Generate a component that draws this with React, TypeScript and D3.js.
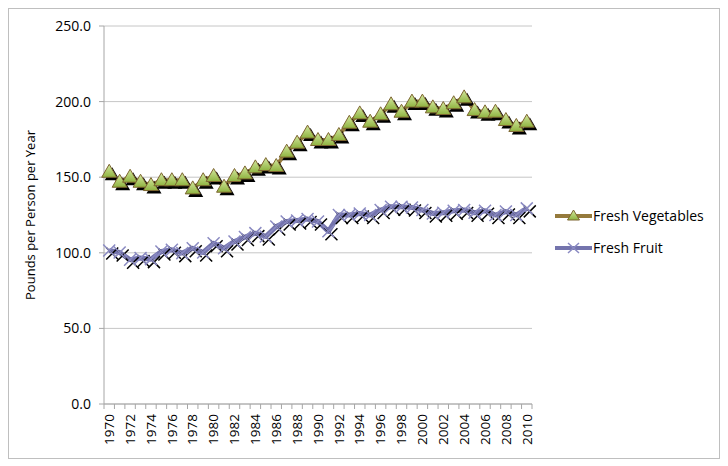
import React from "react";
import * as d3 from "d3";

const years = d3.range(1970, 2011).map(String);

const vegetables = [
  153.6, 147.0, 150.3, 147.0, 144.8, 148.0, 148.0, 148.0, 142.6, 148.0,
  150.8, 143.7, 150.8, 152.5, 156.5, 158.0, 157.4, 166.9, 172.8, 179.5,
  174.6, 174.6, 177.9, 186.0, 192.2, 186.7, 191.6, 198.2, 193.3, 200.0,
  200.0, 196.2, 195.1, 198.9, 202.8, 194.4, 192.9, 193.3, 187.8, 183.9, 186.7,
];

const fruit = [
  101.5, 100.2, 95.4, 96.5, 95.8, 100.9, 102.0, 99.8, 103.0, 100.2,
  106.3, 103.0, 107.5, 110.4, 113.0, 110.8, 117.4, 120.7, 121.4, 122.3,
  120.7, 114.2, 125.0, 125.0, 126.0, 125.0, 128.3, 130.5, 130.5, 130.0,
  128.3, 126.0, 126.5, 127.8, 128.3, 126.5, 127.8, 125.0, 127.3, 125.0, 129.4,
];

const yTicks = [0, 50, 100, 150, 200, 250];
const seriesNames = ["Fresh Vegetables", "Fresh Fruit"];

const VEG_LINE = "#957a3c";
const FRUIT_LINE = "#7474ad";
const FONT = "'Open Sans', 'Noto Sans', sans-serif";

const Triangle: React.FC<{ x: number; y: number }> = ({ x, y }) => {
  const tri = (cx: number, cy: number) =>
    `M${cx},${cy - 7.5} L${cx + 7.5},${cy + 5.5} L${cx - 7.5},${cy + 5.5} Z`;
  return (
    <g>
      <path d={tri(x + 3, y + 3)} fill="#000" />
      <path d={tri(x, y)} fill="url(#triGrad)" stroke="#7d6530" strokeWidth={1} />
    </g>
  );
};

const Cross: React.FC<{ x: number; y: number }> = ({ x, y }) => {
  const s = 6;
  const cross = (cx: number, cy: number) =>
    `M${cx - s},${cy - s} L${cx + s},${cy + s} M${cx + s},${cy - s} L${cx - s},${cy + s}`;
  return (
    <g>
      <path d={cross(x + 3, y + 3)} stroke="#000" strokeWidth={1.5} />
      <path d={cross(x, y)} stroke="#8a8ac2" strokeWidth={1.5} />
    </g>
  );
};

const App: React.FC = () => {
  const width = 728;
  const height = 466;
  const left = 104;
  const right = 532;
  const top = 26;
  const bottom = 404;

  const x = d3.scaleBand<string>().domain(years).range([left, right]).padding(0);
  const y = d3.scaleLinear().domain([0, 250]).range([bottom, top]);
  const cx = (d: string) => x(d)! + x.bandwidth() / 2;

  const line = d3
    .line<number>()
    .x((_, i) => cx(years[i]))
    .y((d) => y(d));

  return (
    <svg
      width={width}
      height={height}
      style={{ position: "absolute", left: 0, top: 0, background: "#fff" }}
    >
      <defs>
        <linearGradient id="triGrad" x1="0" y1="0" x2="0" y2="1">
          <stop offset="0%" stopColor="#d4e8a0" />
          <stop offset="100%" stopColor="#8fb340" />
        </linearGradient>
      </defs>

      <rect x={8.5} y={8.5} width={711} height={450} fill="#fff" stroke="#bfbfbf" />

      {/* gridlines */}
      {yTicks.map((t) => (
        <g key={t}>
          <line x1={left} x2={right} y1={y(t)} y2={y(t)} stroke="#c6c6c6" />
          <line x1={left - 5} x2={left} y1={y(t)} y2={y(t)} stroke="#a6a6a6" />
          <text
            x={91}
            y={y(t)}
            dy="0.35em"
            textAnchor="end"
            fontFamily={FONT}
            fontSize={14}
            fill="#000"
          >
            {t.toFixed(1)}
          </text>
        </g>
      ))}

      <line x1={left} x2={left} y1={top} y2={bottom} stroke="#a6a6a6" />
      <line x1={left} x2={right} y1={bottom} y2={bottom} stroke="#a6a6a6" />
      {years.map((d) => (
        <line key={d} x1={x(d)!} x2={x(d)!} y1={bottom} y2={bottom + 5} stroke="#a6a6a6" />
      ))}
      <line x1={right} x2={right} y1={bottom} y2={bottom + 5} stroke="#a6a6a6" />

      {years.map((d, i) =>
        i % 2 === 0 ? (
          <text
            key={d}
            transform={`translate(${cx(d)},${414}) rotate(-90)`}
            dy="0.35em"
            textAnchor="end"
            fontFamily={FONT}
            fontSize={13.5}
          >
            {d}
          </text>
        ) : null
      )}

      <text
        transform="translate(30,215) rotate(-90)"
        textAnchor="middle"
        dy="0.35em"
        fontFamily={FONT}
        fontSize={13}
      >
        Pounds per Person per Year
      </text>

      {/* fruit */}
      <path d={line(fruit)!} fill="none" stroke={FRUIT_LINE} strokeWidth={5} strokeLinejoin="round" />
      {fruit.map((v, i) => (
        <Cross key={i} x={cx(years[i])} y={y(v)} />
      ))}

      {/* vegetables */}
      <path d={line(vegetables)!} fill="none" stroke={VEG_LINE} strokeWidth={4} strokeLinejoin="round" />
      {vegetables.map((v, i) => (
        <Triangle key={i} x={cx(years[i])} y={y(v)} />
      ))}

      {/* legend */}
      <g>
        <line x1={555} x2={592} y1={216} y2={216} stroke={VEG_LINE} strokeWidth={4} />
        <path d="M573.5,210 L579.5,220 L567.5,220 Z" fill="url(#triGrad)" stroke="#7d6530" />
        <text x={593} y={216} dy="0.35em" fontFamily={FONT} fontSize={14}>
          {seriesNames[0]}
        </text>
        <line x1={555} x2={592} y1={248} y2={248} stroke={FRUIT_LINE} strokeWidth={4} />
        <path d="M568,243 L579,253 M579,243 L568,253" stroke="#8a8ac2" strokeWidth={1.5} />
        <text x={593} y={248} dy="0.35em" fontFamily={FONT} fontSize={14}>
          {seriesNames[1]}
        </text>
      </g>
    </svg>
  );
};

export default App;
